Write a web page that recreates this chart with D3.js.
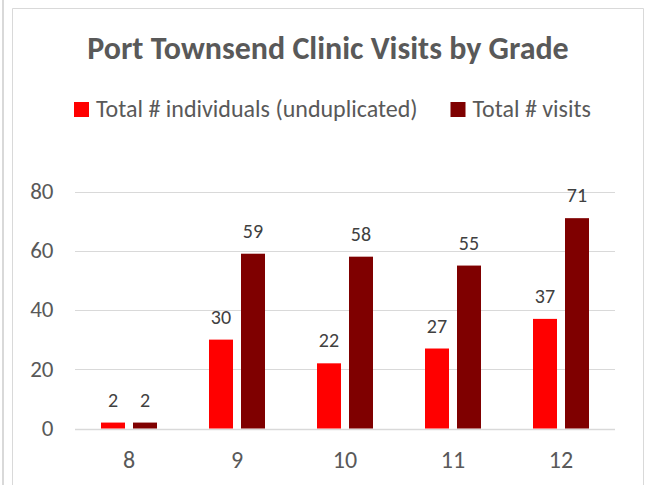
<!DOCTYPE html>
<html>
<head>
<meta charset="utf-8">
<script src="https://d3js.org/d3.v7.min.js"></script>
<style>
    body { margin: 0; background: #fff; }
    svg text { font-family: Calibri, Carlito, "Open Sans", sans-serif; }
</style>
</head>
<body>
<div class="clinicChart"></div>
<script>
// values
let grades = ["8", "9", "10", "11", "12"];
let individuals = [2, 30, 22, 27, 37];
let visits = [2, 59, 58, 55, 71];
let seriesNames = ["Total # individuals (unduplicated)", "Total # visits"];
let seriesColors = ["#ff0000", "#7f0000"];
let yTicks = [0, 20, 40, 60, 80];

class GradeChart
{
    constructor()
    {
        this.width = 646;
        this.height = 485;
        this.margin = {top: 191.5, right: 31, bottom: 56.5, left: 75};
    }

    draw()
    {
        let svg = d3.select(".clinicChart")
            .append("svg")
            .attr("width", this.width)
            .attr("height", this.height);

        // outer frame lines
        svg.append("line").attr("x1", 3).attr("x2", 3).attr("y1", 0).attr("y2", this.height)
            .attr("stroke", "#d9d9d9").attr("stroke-width", 2);
        svg.append("path")
            .attr("d", "M12.5," + this.height + "V8.5H643.5V" + this.height)
            .attr("fill", "none")
            .attr("stroke", "#d9d9d9");

        svg.append("text")
            .attr("x", 328)
            .attr("y", 58.5)
            .attr("text-anchor", "middle")
            .attr("font-size", 32)
            .attr("font-weight", "bold")
            .attr("fill", "#595959")
            .text("Port Townsend Clinic Visits by Grade");

        // legend
        let legendX = [74, 450.5];
        seriesNames.forEach((name, i) => {
            svg.append("rect")
                .attr("x", legendX[i]).attr("y", 102)
                .attr("width", 15).attr("height", 15)
                .attr("fill", seriesColors[i]);
            svg.append("text")
                .attr("x", legendX[i] + 22)
                .attr("y", 117.3)
                .attr("font-size", 24)
                .attr("fill", "#595959")
                .text(name);
        });

        let plotW = this.width - this.margin.left - this.margin.right;
        let plotBottom = 428.5;

        let x = d3.scaleBand()
            .domain(grades)
            .range([this.margin.left, this.margin.left + plotW]);

        let y = d3.scaleLinear()
            .domain([0, 80])
            .range([plotBottom, this.margin.top]);

        let sub = d3.scaleBand()
            .domain([0, 1])
            .range([x.bandwidth() / 2 - 28, x.bandwidth() / 2 + 28])
            .paddingInner(0.25);

        // gridlines
        svg.append("g")
            .selectAll("line")
            .data(yTicks)
            .enter()
            .append("line")
            .attr("x1", this.margin.left)
            .attr("x2", this.margin.left + plotW)
            .attr("y1", d => Math.round(y(d)) + 0.5)
            .attr("y2", d => Math.round(y(d)) + 0.5)
            .attr("stroke", "#d9d9d9")
            .attr("stroke-width", d => d === 0 ? 1.5 : 1);

        let yAxis = svg.append("g")
            .attr("transform", "translate(53.5,0)")
            .call(d3.axisLeft(y).tickValues(yTicks).tickSize(0).tickPadding(0));
        yAxis.select(".domain").remove();
        yAxis.selectAll("text")
            .attr("font-size", 23)
            .attr("fill", "#595959")
            .attr("dy", "0.3em");

        let xAxis = svg.append("g")
            .attr("transform", "translate(0," + plotBottom + ")")
            .call(d3.axisBottom(x).tickSize(0).tickPadding(0));
        xAxis.select(".domain").remove();
        xAxis.selectAll("text")
            .attr("font-size", 24)
            .attr("fill", "#595959")
            .attr("dy", 0)
            .attr("y", 39.8);

        let series = [individuals, visits];
        series.forEach((vals, s) => {
            let g = svg.append("g");
            g.selectAll("rect")
                .data(vals)
                .enter()
                .append("rect")
                .attr("x", (d, i) => x(grades[i]) + sub(s))
                .attr("y", d => y(d))
                .attr("width", sub.bandwidth())
                .attr("height", d => plotBottom - y(d))
                .attr("fill", seriesColors[s]);

            g.selectAll("text")
                .data(vals)
                .enter()
                .append("text")
                .attr("x", (d, i) => x(grades[i]) + sub(s) + sub.bandwidth() / 2)
                .attr("y", d => y(d) - 16)
                .attr("text-anchor", "middle")
                .attr("font-size", 20)
                .attr("fill", "#404040")
                .text(d => d);
        });
    }
}

let chart = new GradeChart();
chart.draw();
</script>
</body>
</html>
